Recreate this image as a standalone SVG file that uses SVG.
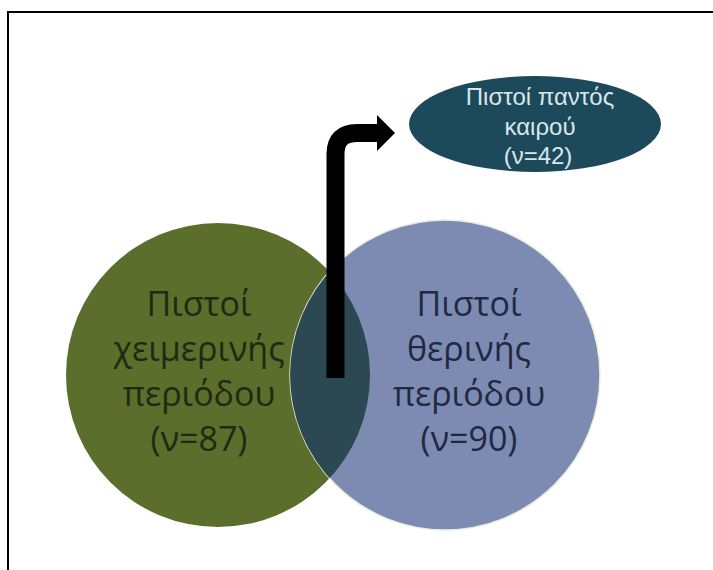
<svg xmlns="http://www.w3.org/2000/svg" width="713" height="570" viewBox="0 0 713 570">
  <style>
    .big { font-family: "Open Sans", "Liberation Sans", sans-serif; font-size: 34px; text-anchor: middle; }
    .small { font-family: "Liberation Sans", Arial, sans-serif; font-size: 24px; text-anchor: middle; fill: #d9e6ea; }
  </style>
  <defs>
    <clipPath id="blueClip">
      <circle cx="445" cy="375" r="155"/>
    </clipPath>
    <marker id="head" markerUnits="userSpaceOnUse" markerWidth="20" markerHeight="38" refX="0" refY="18" orient="auto">
      <path d="M0,0 L18,18 L0,36 Z" fill="#000"/>
    </marker>
  </defs>
  <rect x="0" y="0" width="713" height="570" fill="#ffffff"/>
  <rect x="8" y="12" width="720" height="570" fill="none" stroke="#000" stroke-width="2"/>

  <g id="winter">
    <circle cx="218" cy="375" r="152" fill="#5b6e2b"/>
  </g>
  <g id="summer">
    <circle cx="445" cy="375" r="155" fill="#7d8bb3" stroke="#e8eedc" stroke-width="1.5"/>
  </g>
  <g id="overlap">
    <circle cx="218" cy="375" r="152" fill="#2b4853" clip-path="url(#blueClip)"/>
  </g>

  <g id="connectors">
    <path d="M335.5,378 V154 Q335.5,133 357,133 H377" fill="none" stroke="#000" stroke-width="18" marker-end="url(#head)"/>
  </g>

  <g id="winter-label">
    <text class="big" fill="#1e2a12" x="199" y="316">Πιστοί</text>
    <text class="big" fill="#1e2a12" x="199" y="361">χειμερινής</text>
    <text class="big" fill="#1e2a12" x="199" y="406">περιόδου</text>
    <text class="big" fill="#1e2a12" x="199" y="451">(ν=87)</text>
  </g>
  <g id="summer-label">
    <text class="big" fill="#1f2942" x="469" y="316">Πιστοί</text>
    <text class="big" fill="#1f2942" x="469" y="361">θερινής</text>
    <text class="big" fill="#1f2942" x="469" y="406">περιόδου</text>
    <text class="big" fill="#1f2942" x="469" y="451">(ν=90)</text>
  </g>

  <g id="allseason">
    <ellipse cx="535" cy="124" rx="126" ry="48" fill="#1d4a5b"/>
    <text class="small" x="540" y="105">Πιστοί παντός</text>
    <text class="small" x="540" y="134.5">καιρού</text>
    <text class="small" x="538" y="164">(ν=42)</text>
  </g>
</svg>
